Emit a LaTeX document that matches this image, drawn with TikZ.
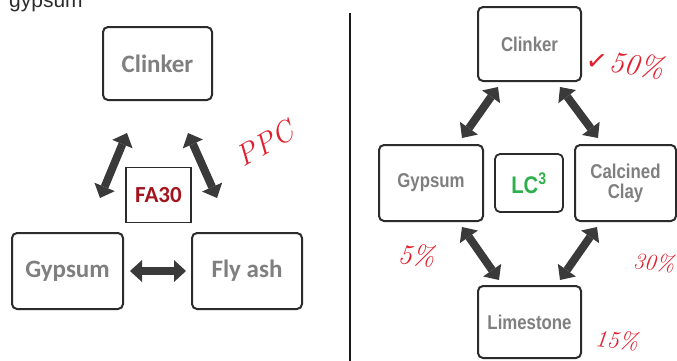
\documentclass[tikz,border=0pt]{standalone}
\usepackage{fontspec}
\usetikzlibrary{arrows.meta}
\setmainfont{Liberation Sans}
\newfontfamily\leftfont{Carlito}
\newfontfamily\rightfont[FakeStretch=0.84]{Liberation Sans}
\newfontfamily\symfont{DejaVu Sans}
\newfontfamily\handfont{Latin Modern Roman}

\definecolor{boxline}{HTML}{2B2B2B}
\definecolor{boxtext}{HTML}{7F7F7F}
\definecolor{arrowc}{HTML}{3A3A3A}
\definecolor{fared}{HTML}{A3141E}
\definecolor{lcgreen}{HTML}{2DB04B}
\definecolor{hand}{HTML}{E0202E}

\tikzset{
  box/.style={draw=boxline, line width=2pt, rounded corners=5pt, fill=white,
    inner sep=0pt, align=center, text=boxtext},
  lbox/.style={box, font=\leftfont\bfseries\fontsize{25}{28}\selectfont},
  rbox/.style={box, font=\rightfont\bfseries\fontsize{20}{23}\selectfont},
  dblarrow/.style={draw=arrowc, line width=8pt,
    {Triangle[width=22pt,length=12pt,line width=0pt]}-{Triangle[width=22pt,length=12pt,line width=0pt]}},
  handtext/.style={text=hand, font=\handfont\itshape\fontsize{28}{30}\selectfont, inner sep=0pt}
}

\begin{document}
\begin{tikzpicture}[x=1pt,y=-1pt]
  \useasboundingbox (0,0) rectangle (677,360);

  % caption fragment at the top edge
  \node[anchor=base west, inner sep=0pt, text=boxline,
        font=\fontsize{21}{24}\selectfont] (cap) at (9,7) {gypsum};

  % ---------- PPC (FA30) ----------
  \node[lbox, minimum width=109pt, minimum height=73pt] (lclinker) at (157.5,63.5) {Clinker};
  \node[lbox, minimum width=111pt, minimum height=76pt] (lgypsum) at (67.5,271) {Gypsum};
  \node[lbox, minimum width=110pt, minimum height=76pt] (lflyash) at (247,271) {Fly ash};
  \node[draw=boxline, line width=1.5pt, fill=white, inner sep=0pt,
        minimum width=65pt, minimum height=55pt, text=fared,
        font=\leftfont\bfseries\fontsize{23}{26}\selectfont] (fa) at (158.5,195) {FA30};

  \coordinate (la1) at (127,133);
  \coordinate (la2) at (100,198);
  \coordinate (ra1) at (188,133);
  \coordinate (ra2) at (217,198);
  \coordinate (ha1) at (130,271);
  \coordinate (ha2) at (186,271);
  \draw[dblarrow] (la1) -- (la2);
  \draw[dblarrow] (ra1) -- (ra2);
  \draw[dblarrow] (ha1) -- (ha2);

  \node[handtext, rotate=30, font=\handfont\itshape\fontsize{30}{32}\selectfont] (ppc) at (265,143) {PPC};

  % divider
  \draw[line width=2pt, draw=black!90] (350,13) -- (350,362);

  % ---------- LC3 ----------
  \node[rbox, minimum width=103pt, minimum height=74pt] (rclinker) at (529.5,44) {Clinker};
  \node[rbox, minimum width=104pt, minimum height=76pt] (rgypsum) at (431,183) {Gypsum};
  \node[box, line width=1.8pt, minimum width=68pt, minimum height=58pt, text=lcgreen,
        font=\rightfont\bfseries\fontsize{24}{26}\selectfont] (lc) at (529,183) {LC\textsuperscript{3}};
  \node[rbox, minimum width=101pt, minimum height=76pt] (rclay) at (625.5,183) {Calcined\\[-3pt]Clay};
  \node[rbox, minimum width=103pt, minimum height=72pt] (rlime) at (529.5,322) {Limestone};

  \coordinate (a1) at (498,87);
  \coordinate (a2) at (462,138);
  \coordinate (b1) at (560,87);
  \coordinate (b2) at (598,138);
  \coordinate (c1) at (462,227);
  \coordinate (c2) at (499,280);
  \coordinate (d1) at (597,227);
  \coordinate (d2) at (560,280);
  \draw[dblarrow] (a1) -- (a2);
  \draw[dblarrow] (b1) -- (b2);
  \draw[dblarrow] (c1) -- (c2);
  \draw[dblarrow] (d1) -- (d2);

  \node[handtext, anchor=west, rotate=-8, font=\handfont\itshape\fontsize{30}{32}\selectfont]
    (p50) at (586,58) {{\symfont\fontsize{26}{28}\selectfont ✓}\kern2pt 50\%};
  \node[handtext, anchor=west, rotate=-5] (p5) at (398,254) {5\%};
  \node[handtext, anchor=west, rotate=-5, font=\handfont\itshape\fontsize{23}{25}\selectfont] (p30) at (633,261) {30\%};
  \node[handtext, anchor=west, rotate=-5, font=\handfont\itshape\fontsize{24}{26}\selectfont] (p15) at (595,338) {15\%};
\end{tikzpicture}
\end{document}
